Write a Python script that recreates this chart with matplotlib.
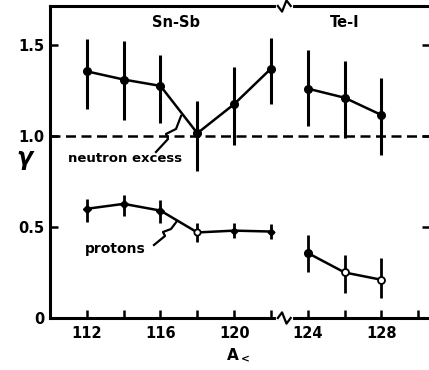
import matplotlib
matplotlib.use("Agg")
import matplotlib.pyplot as plt
import numpy as np

# ---- data ----
A_sn = [112, 114, 116, 118, 120, 122]
A_te = [124, 126, 128]
neut_sn = [1.355, 1.31, 1.275, 1.015, 1.175, 1.37]
neut_sn_lo = [1.15, 1.09, 1.07, 0.81, 0.95, 1.175]
neut_sn_hi = [1.53, 1.52, 1.445, 1.19, 1.38, 1.54]
neut_te = [1.26, 1.21, 1.115]
neut_te_lo = [1.055, 0.99, 0.895]
neut_te_hi = [1.47, 1.41, 1.32]
prot_sn = [0.60, 0.627, 0.59, 0.47, 0.48, 0.475]
prot_sn_lo = [0.53, 0.56, 0.52, 0.42, 0.44, 0.435]
prot_sn_hi = [0.655, 0.675, 0.65, 0.52, 0.52, 0.515]
prot_te = [0.357, 0.25, 0.21]
prot_te_lo = [0.25, 0.14, 0.11]
prot_te_hi = [0.455, 0.345, 0.33]
xticks = [112, 114, 116, 118, 120, 122, 124, 126, 128, 130]
xticklabels = ["112", "", "116", "", "120", "", "124", "", "128", ""]
yticks = [0, 0.5, 1.0, 1.5]
yticklabels = ["0", "0.5", "1.0", "1.5"]

plt.rcParams['font.family'] = ['DejaVu Sans']
plt.rcParams['font.weight'] = 'bold'

W, H = 429, 370
fig = plt.figure(figsize=(W / 100, H / 100), dpi=100)
ax = fig.add_axes([50 / W, 1 - 318 / H, 1 - 50 / W + 0.003, (318 - 6) / H])
ax.set_xlim(110, 130.65)
ax.set_ylim(0, 1.714)

k = 'black'
lw = 1.8


def px2data(px, py):
    return 110 + (px - 49.25) / 18.375, (318 - py) / 182.0


def err(x, y, lo, hi, elw):
    y = np.array(y)
    ax.errorbar(x, y, yerr=[y - np.array(lo), np.array(hi) - y], fmt='none',
                ecolor=k, elinewidth=elw, capsize=0, zorder=3)


# neutron excess
ax.plot(A_sn, neut_sn, color=k, lw=lw, zorder=3)
err(A_sn, neut_sn, neut_sn_lo, neut_sn_hi, 2.2)
ax.plot(A_sn, neut_sn, 'o', color=k, ms=5.5, zorder=4)
ax.plot(A_te, neut_te, color=k, lw=lw, zorder=3)
err(A_te, neut_te, neut_te_lo, neut_te_hi, 2.2)
ax.plot(A_te, neut_te, 'o', color=k, ms=5.5, zorder=4)

# protons
ax.plot(A_sn, prot_sn, color=k, lw=lw, zorder=3)
err(A_sn, prot_sn, prot_sn_lo, prot_sn_hi, 2.0)
ax.plot(A_sn[:3], prot_sn[:3], 'D', color=k, ms=4, zorder=4)
ax.plot(A_sn[3:4], prot_sn[3:4], 'o', mfc='white', mec=k, mew=1.3, ms=4.5, zorder=4)
ax.plot(A_sn[4:], prot_sn[4:], 'D', color=k, ms=3.5, zorder=4)
ax.plot(A_te, prot_te, color=k, lw=lw, zorder=3)
err(A_te, prot_te, prot_te_lo, prot_te_hi, 2.0)
ax.plot(A_te[:1], prot_te[:1], 'o', color=k, ms=5.5, zorder=4)
ax.plot(A_te[1:], prot_te[1:], 'o', mfc='white', mec=k, mew=1.3, ms=5, zorder=4)

# dashed reference line
ax.axhline(1.0, color=k, lw=1.8, ls=(0, (4, 2.2)), zorder=2)

# axes styling
for s in ['left', 'bottom', 'top']:
    ax.spines[s].set_linewidth(2.2)
ax.spines['right'].set_visible(False)
ax.set_xticks(xticks)
ax.set_xticklabels(xticklabels)
ax.set_yticks(yticks)
ax.set_yticklabels(yticklabels)
ax.tick_params(axis='x', direction='in', length=6, width=1.8, labelsize=10.5, pad=6)
ax.tick_params(axis='y', direction='in', length=6, width=1.8, labelsize=10.5, pad=4,
               right=True)
for t in ax.get_xticklabels() + ax.get_yticklabels():
    t.set_fontweight('bold')

# axis break marks (zigzag) on top and bottom spines
xb = 110 + (283 - 49.25) / 18.375
for yb, sgn in [(0.0, 1), (1.0, -1)]:
    ax.plot([xb - 0.35, xb + 0.35], [yb, yb], color='white', lw=3,
            transform=ax.get_xaxis_transform(), clip_on=False, zorder=5)
    zx = np.array([-0.35, -0.12, 0.12, 0.35]) + xb
    zy = yb + sgn * np.array([0, 0.018, -0.018, 0])
    ax.plot(zx, zy, color=k, lw=1.6, transform=ax.get_xaxis_transform(),
            clip_on=False, zorder=6)

# group labels
ax.text(*px2data(175, 23), "Sn-Sb", ha='center', va='center', fontsize=10.5,
        fontweight='bold')
ax.text(*px2data(343, 23), "Te-I", ha='center', va='center', fontsize=10.5,
        fontweight='bold')
ax.text(*px2data(124, 159), "neutron excess", ha='center', va='center',
        fontsize=9.5, fontweight='bold', zorder=6,
        bbox=dict(facecolor='white', edgecolor='none', pad=0.5))
ax.text(*px2data(114, 249), "protons", ha='center', va='center', fontsize=10,
        fontweight='bold')

# pointer squiggles
for path in ([(155, 152), (167, 139), (165, 134), (175, 129), (180, 116)],
             [(153, 245), (164, 236), (162, 232), (170, 229), (176, 221)]):
    pts = np.array([px2data(*p) for p in path])
    ax.plot(pts[:, 0], pts[:, 1], color=k, lw=1.6, zorder=6)

# axis labels
fig.text(24 / W, 1 - 158 / H, "γ", fontsize=17, ha='center', va='center',
         style='italic')
fig.text(238 / W, 1 - 356 / H, r"A$_{\mathbf{<}}$", fontsize=11, ha='center',
         va='center', fontweight='bold')

fig.savefig("out.png", dpi=100)
